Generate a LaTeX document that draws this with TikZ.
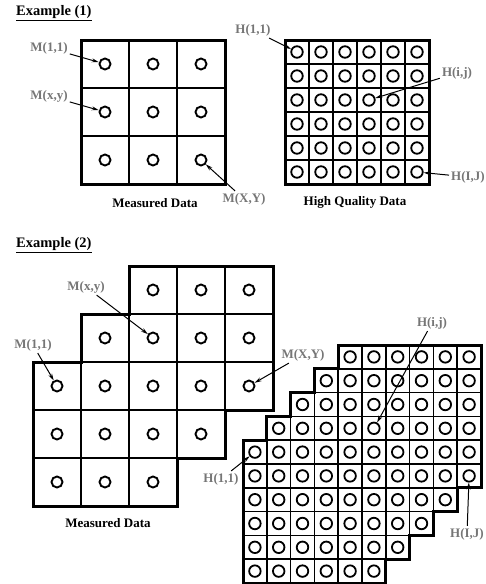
\documentclass[tikz,border=0pt]{standalone}
\usepackage{fontspec}
\setmainfont{Liberation Serif}
\usepackage{xcolor}
\usepackage{tikz}
\usetikzlibrary{arrows.meta}

\definecolor{lblgray}{RGB}{118,118,118}

\begin{document}
\begin{tikzpicture}[
        x=1pt, y=-1pt,
        cellline/.style={line width=1.4pt},
        finecellline/.style={line width=1.7pt},
        outline/.style={line width=3pt, line join=miter},
        sample/.style={draw, circle, line width=1.9pt, minimum size=11pt, inner sep=0pt},
        finesample/.style={draw, circle, line width=1.8pt, minimum size=11.5pt, inner sep=0pt},
        ptlabel/.style={text=lblgray, font=\fontsize{13}{15}\selectfont\bfseries, inner sep=2pt},
        caption/.style={font=\fontsize{13}{15}\selectfont\bfseries},
        heading/.style={font=\fontsize{14.5}{17}\selectfont\bfseries, anchor=west, inner sep=0pt},
        arrow/.style={-{Stealth[length=7pt, width=4pt]}, line width=1pt}
    ]
    \useasboundingbox (0,0) rectangle (485,584);

    % ============ EXAMPLE (1) ============
    \node[heading] (head1) at (16,13) {\underline{Example (1)}};

    % measured data, 3 x 3
    \begin{scope}[shift={(81,40)}, x=48pt, y=-48pt]
        \foreach \r in {0,...,2}
            \foreach \c in {0,...,2} {
                \draw[cellline] (\c,\r) rectangle ++(1,1);
                \node[sample] (ma-\r-\c) at (\c+0.5,\r+0.5) {};
            }
        \draw[outline] (0,0) rectangle (3,3);
    \end{scope}

    % high quality data, 6 x 6
    \begin{scope}[shift={(285,40)}, x=24pt, y=-24pt]
        \foreach \r in {0,...,5}
            \foreach \c in {0,...,5} {
                \draw[finecellline] (\c,\r) rectangle ++(1,1);
                \node[finesample] (ha-\r-\c) at (\c+0.5,\r+0.5) {};
            }
        \draw[outline] (0,0) rectangle (6,6);
    \end{scope}

    \node[ptlabel] (ma11) at (49,48) {M(1,1)};
    \node[ptlabel] (maxy) at (49,96) {M(x,y)};
    \node[ptlabel] (maXY) at (244,199) {M(X,Y)};
    \node[ptlabel] (ha11) at (253,30) {H(1,1)};
    \node[ptlabel] (haij) at (457,73) {H(i,j)};
    \node[ptlabel] (haIJ) at (468,177) {H(I,J)};

    \draw[arrow] (ma11) -- (ma-0-0);
    \draw[arrow] (maxy) -- (ma-1-0);
    \draw[arrow] (maXY) -- (ma-2-2);
    \draw[arrow] (ha11) -- (ha-0-0);
    \draw[arrow] (haij) -- (ha-2-3);
    \draw[arrow] (haIJ) -- (ha-5-5);

    \node[caption] (capma) at (155,203) {Measured Data};
    \node[caption] (capha) at (355,202) {High Quality Data};

    % ============ EXAMPLE (2) ============
    \node[heading] (head2) at (16,245) {\underline{Example (2)}};

    % measured data, staircase
    \begin{scope}[shift={(33,266)}, x=48pt, y=-48pt]
        \foreach \r/\a/\b in {0/2/4, 1/1/4, 2/0/4, 3/0/3, 4/0/2}
            \foreach \c in {\a,...,\b} {
                \draw[cellline] (\c,\r) rectangle ++(1,1);
                \node[sample] (mb-\r-\c) at (\c+0.5,\r+0.5) {};
            }
        \draw[outline] (2,0) -- (5,0) -- (5,3) -- (4,3) -- (4,4) -- (3,4) -- (3,5)
            -- (0,5) -- (0,2) -- (1,2) -- (1,1) -- (2,1) -- cycle;
    \end{scope}

    % high quality data, staircase
    \begin{scope}[shift={(243,345)}, x=23.8pt, y=-23.8pt]
        \foreach \r/\a/\b in {0/4/9, 1/3/9, 2/2/9, 3/1/9, 4/0/9, 5/0/9, 6/0/8, 7/0/7, 8/0/6, 9/0/5}
            \foreach \c in {\a,...,\b} {
                \draw[finecellline] (\c,\r) rectangle ++(1,1);
                \node[finesample] (hb-\r-\c) at (\c+0.5,\r+0.5) {};
            }
        \draw[outline] (4,0) -- (10,0) -- (10,6) -- (9,6) -- (9,7) -- (8,7) -- (8,8)
            -- (7,8) -- (7,9) -- (6,9) -- (6,10) -- (0,10) -- (0,4) -- (1,4) -- (1,3)
            -- (2,3) -- (2,2) -- (3,2) -- (3,1) -- (4,1) -- cycle;
    \end{scope}

    \node[ptlabel] (mbxy) at (86,287) {M(x,y)};
    \node[ptlabel] (mb11) at (33,345) {M(1,1)};
    \node[ptlabel] (mbXY) at (303,355) {M(X,Y)};
    \node[ptlabel] (hbij) at (432,323) {H(i,j)};
    \node[ptlabel] (hb11) at (221,479) {H(1,1)};
    \node[ptlabel] (hbIJ) at (467,534) {H(I,J)};

    \draw[arrow] (mbxy) -- (mb-1-2);
    \draw[arrow] (mb11) -- (mb-2-0);
    \draw[arrow] (mbXY) -- (mb-2-4);
    \draw[arrow] (hbij) -- (hb-3-5);
    \draw[arrow] (hb11) -- (hb-4-0);
    \draw[arrow] (hbIJ) -- (hb-5-9);

    \node[caption] (capmb) at (108,523) {Measured Data};

\end{tikzpicture}
\end{document}
